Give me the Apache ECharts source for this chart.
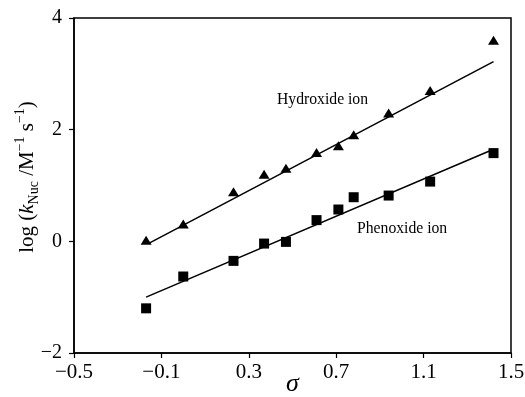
<!DOCTYPE html>
<html>
<head>
<meta charset="utf-8">
<script src="https://cdn.jsdelivr.net/npm/echarts@6/dist/echarts.min.js"></script>
<style>html,body{margin:0;padding:0;background:#fff}#c{width:525px;height:397px}</style>
</head>
<body>
<div id="c"></div>
<script>
const sigma = [-0.17, 0.00, 0.23, 0.37, 0.47, 0.61, 0.71, 0.78, 0.94, 1.13, 1.42];
const hydroxide = [0.02, 0.31, 0.89, 1.20, 1.31, 1.59, 1.71, 1.91, 2.30, 2.70, 3.60];
const phenoxide = [-1.20, -0.63, -0.35, -0.04, -0.01, 0.38, 0.57, 0.79, 0.82, 1.07, 1.58];
const hydroxideFitX = [-0.16, 1.42];
const hydroxideFitY = [-0.04, 3.22];
const phenoxideFitX = [-0.17, 1.42];
const phenoxideFitY = [-1.00, 1.65];
const xTicks = [-0.5, -0.1, 0.3, 0.7, 1.1, 1.5];
const yTicks = [-2, 0, 2, 4];

const font = '"Liberation Serif", "DejaVu Serif", serif';
const zip = (a, b) => a.map((v, i) => [v, b[i]]);
const fmt = v => (v < 0 ? '\u2212' : '') + Math.abs(v);

const chart = echarts.init(document.getElementById('c'));
chart.setOption({
  animation: false,
  backgroundColor: '#fff',
  grid: { left: 74, right: 14, top: 18, bottom: 44, containLabel: false, outerBoundsMode: 'none',
    show: true, borderColor: '#000', borderWidth: 1.5, backgroundColor: 'transparent' },
  xAxis: {
    type: 'value', min: -0.5, max: 1.5, interval: 0.4,
    axisLine: { show: true, onZero: false, lineStyle: { color: '#000', width: 1.5 } },
    axisTick: { show: true, length: 5, lineStyle: { color: '#000', width: 1.2 } },
    splitLine: { show: false },
    axisLabel: { color: '#000', fontFamily: font, fontSize: 21, margin: 9, hideOverlap: false,
      formatter: v => xTicks.some(t => Math.abs(t - v) < 1e-9) ? fmt(Math.round(v * 10) / 10) : '' },
    name: 'σ', nameLocation: 'middle', nameGap: 18, nameMoveOverlap: false,
    nameTextStyle: { color: '#000', fontFamily: font, fontSize: 26, fontStyle: 'italic' }
  },
  yAxis: {
    type: 'value', min: -2, max: 4, interval: 2,
    axisLine: { show: true, onZero: false, lineStyle: { color: '#000', width: 1.5 } },
    axisTick: { show: true, length: 5, lineStyle: { color: '#000', width: 1.2 } },
    splitLine: { show: false },
    axisLabel: { color: '#000', fontFamily: font, fontSize: 20, margin: 12,
      formatter: v => yTicks.includes(v) ? fmt(v) : '' }
  },
  series: [
    { type: 'line', data: zip(hydroxideFitX, hydroxideFitY), symbol: 'none', lineStyle: { color: '#000', width: 1.5 }, silent: true },
    { type: 'line', data: zip(phenoxideFitX, phenoxideFitY), symbol: 'none', lineStyle: { color: '#000', width: 1.5 }, silent: true },
    { type: 'scatter', name: 'Hydroxide ion', data: zip(sigma, hydroxide), symbol: 'triangle', symbolSize: [11, 9], itemStyle: { color: '#000', opacity: 1 } },
    { type: 'scatter', name: 'Phenoxide ion', data: zip(sigma, phenoxide), symbol: 'rect', symbolSize: 10, itemStyle: { color: '#000', opacity: 1 } }
  ],
  graphic: [
    { type: 'text', left: 277, top: 92, style: { text: 'Hydroxide ion', fill: '#000', font: '15.7px ' + font } },
    { type: 'text', left: 357, top: 221, style: { text: 'Phenoxide ion', fill: '#000', font: '15.7px ' + font } },
    { type: 'text', x: 27, y: 177, rotation: Math.PI / 2,
      style: {
        text: '{n|log (}{i|k}{sub|Nuc}{n| /M}{sup|\u22121}{n| s}{sup|\u22121}{n|)}',
        align: 'center', verticalAlign: 'middle', fill: '#000',
        rich: {
          n: { fontFamily: font, fontSize: 21, fill: '#000', lineHeight: 28 },
          i: { fontFamily: font, fontSize: 21, fontStyle: 'italic', fill: '#000', lineHeight: 28 },
          sub: { fontFamily: font, fontSize: 14, fill: '#000', verticalAlign: 'bottom', lineHeight: 28, padding: [7, 0, 0, 0] },
          sup: { fontFamily: font, fontSize: 14, fill: '#000', verticalAlign: 'top', lineHeight: 28, padding: [0, 0, 9, 0] }
        }
      }
    }
  ]
});
</script>
</body>
</html>
